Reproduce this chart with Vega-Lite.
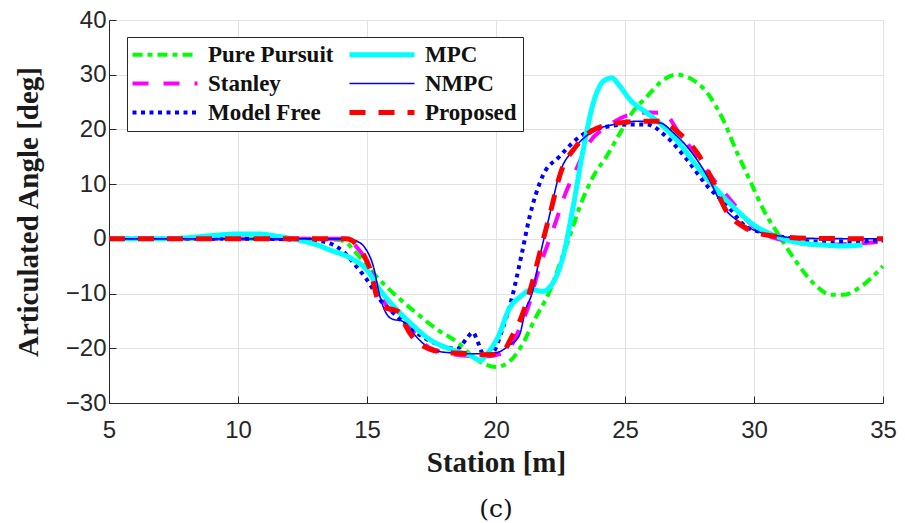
{
  "$schema": "https://vega.github.io/schema/vega-lite/v6.json",
  "width": 774,
  "height": 383,
  "autosize": {"type": "none"},
  "padding": {"left": 109, "top": 20, "right": 22, "bottom": 120},
  "background": "white",
  "title": {"text": "(c)", "orient": "bottom", "font": "DejaVu Serif", "fontSize": 25, "fontWeight": "normal", "color": "#111", "offset": 20, "anchor": "middle"},
  "config": {
    "view": {"stroke": null},
    "axis": {
      "labelFont": "Liberation Sans", "labelFontSize": 24, "labelColor": "#262626",
      "titleFont": "Liberation Serif", "titleFontSize": 29, "titleFontWeight": "bold", "titleColor": "#1a1a1a",
      "gridColor": "#e2e2e2", "gridWidth": 1, "domainColor": "#262626", "domainWidth": 1,
      "tickColor": "#262626", "tickSize": -7
    }
  },
  "data": {"values": [
    {"s":"Pure Pursuit","x":5,"y":0},{"s":"Pure Pursuit","x":8,"y":0},{"s":"Pure Pursuit","x":11,"y":0},{"s":"Pure Pursuit","x":13,"y":0},{"s":"Pure Pursuit","x":13.7,"y":-0.1},{"s":"Pure Pursuit","x":14.1,"y":-0.4},{"s":"Pure Pursuit","x":14.6,"y":-2.7},{"s":"Pure Pursuit","x":15.25,"y":-6.3},{"s":"Pure Pursuit","x":16.15,"y":-10.5},{"s":"Pure Pursuit","x":16.9,"y":-13.5},{"s":"Pure Pursuit","x":17.7,"y":-16.5},{"s":"Pure Pursuit","x":18.5,"y":-18.9},{"s":"Pure Pursuit","x":19.2,"y":-21.9},{"s":"Pure Pursuit","x":20.0,"y":-23.4},{"s":"Pure Pursuit","x":20.5,"y":-22.5},{"s":"Pure Pursuit","x":21.0,"y":-19.5},{"s":"Pure Pursuit","x":21.5,"y":-14.7},{"s":"Pure Pursuit","x":22.05,"y":-9.9},{"s":"Pure Pursuit","x":22.5,"y":-4.2},{"s":"Pure Pursuit","x":22.86,"y":0.5},{"s":"Pure Pursuit","x":23.25,"y":5.9},{"s":"Pure Pursuit","x":23.77,"y":11.4},{"s":"Pure Pursuit","x":24.29,"y":15.1},{"s":"Pure Pursuit","x":24.8,"y":19.3},{"s":"Pure Pursuit","x":25.3,"y":23.2},{"s":"Pure Pursuit","x":25.85,"y":26},{"s":"Pure Pursuit","x":26.5,"y":29.1},{"s":"Pure Pursuit","x":27.0,"y":30},{"s":"Pure Pursuit","x":27.5,"y":29.4},{"s":"Pure Pursuit","x":28.2,"y":26.6},{"s":"Pure Pursuit","x":28.8,"y":21.8},{"s":"Pure Pursuit","x":29.35,"y":15.7},{"s":"Pure Pursuit","x":29.84,"y":10.7},{"s":"Pure Pursuit","x":30.37,"y":5.3},{"s":"Pure Pursuit","x":31.0,"y":0.4},{"s":"Pure Pursuit","x":31.67,"y":-4.4},{"s":"Pure Pursuit","x":32.3,"y":-8.1},{"s":"Pure Pursuit","x":32.98,"y":-10.2},{"s":"Pure Pursuit","x":33.5,"y":-10.2},{"s":"Pure Pursuit","x":34.15,"y":-8.7},{"s":"Pure Pursuit","x":35,"y":-5},

    {"s":"Stanley","x":5,"y":0},{"s":"Stanley","x":9,"y":0},{"s":"Stanley","x":13,"y":0},{"s":"Stanley","x":14.2,"y":0},{"s":"Stanley","x":14.6,"y":-1.5},{"s":"Stanley","x":15.0,"y":-4.2},{"s":"Stanley","x":15.4,"y":-9},{"s":"Stanley","x":15.8,"y":-12.5},{"s":"Stanley","x":16.2,"y":-14},{"s":"Stanley","x":16.7,"y":-16.5},{"s":"Stanley","x":17.3,"y":-19.5},{"s":"Stanley","x":18,"y":-20.8},{"s":"Stanley","x":18.7,"y":-21.3},{"s":"Stanley","x":19.5,"y":-21.5},{"s":"Stanley","x":20.2,"y":-21},{"s":"Stanley","x":20.6,"y":-19.5},{"s":"Stanley","x":20.9,"y":-16.5},{"s":"Stanley","x":21.3,"y":-11.7},{"s":"Stanley","x":21.6,"y":-6.5},{"s":"Stanley","x":22.0,"y":-1},{"s":"Stanley","x":22.3,"y":2.9},{"s":"Stanley","x":22.7,"y":8.4},{"s":"Stanley","x":23.1,"y":12.6},{"s":"Stanley","x":23.6,"y":17.5},{"s":"Stanley","x":24.3,"y":20.5},{"s":"Stanley","x":25.2,"y":22.7},{"s":"Stanley","x":25.97,"y":23.1},{"s":"Stanley","x":26.5,"y":23},{"s":"Stanley","x":27.1,"y":19.3},{"s":"Stanley","x":27.8,"y":15.1},{"s":"Stanley","x":28.44,"y":10.8},{"s":"Stanley","x":29.2,"y":6.5},{"s":"Stanley","x":29.7,"y":3.5},{"s":"Stanley","x":30.3,"y":1.2},{"s":"Stanley","x":31.4,"y":-0.5},{"s":"Stanley","x":32.6,"y":-1.1},{"s":"Stanley","x":34.15,"y":-0.8},{"s":"Stanley","x":35,"y":-0.5},

    {"s":"Model Free","x":5,"y":0},{"s":"Model Free","x":11,"y":0},{"s":"Model Free","x":12,"y":-0.1},{"s":"Model Free","x":13,"y":-0.3},{"s":"Model Free","x":13.6,"y":-0.9},{"s":"Model Free","x":14.1,"y":-2.4},{"s":"Model Free","x":14.6,"y":-5.1},{"s":"Model Free","x":15.0,"y":-7.5},{"s":"Model Free","x":15.5,"y":-11.1},{"s":"Model Free","x":16.15,"y":-14.1},{"s":"Model Free","x":16.9,"y":-17.1},{"s":"Model Free","x":17.7,"y":-19.2},{"s":"Model Free","x":18.5,"y":-20.1},{"s":"Model Free","x":18.85,"y":-18.3},{"s":"Model Free","x":19.1,"y":-17.1},{"s":"Model Free","x":19.3,"y":-18.9},{"s":"Model Free","x":19.5,"y":-21},{"s":"Model Free","x":19.87,"y":-20.7},{"s":"Model Free","x":20.25,"y":-16.5},{"s":"Model Free","x":20.6,"y":-11.1},{"s":"Model Free","x":21.0,"y":-2.7},{"s":"Model Free","x":21.3,"y":4},{"s":"Model Free","x":21.8,"y":11.4},{"s":"Model Free","x":22.47,"y":15.1},{"s":"Model Free","x":23.25,"y":18.7},{"s":"Model Free","x":24.29,"y":20.5},{"s":"Model Free","x":25.2,"y":20.9},{"s":"Model Free","x":25.85,"y":20.9},{"s":"Model Free","x":26.6,"y":18.7},{"s":"Model Free","x":27.4,"y":14.5},{"s":"Model Free","x":28.2,"y":9.6},{"s":"Model Free","x":29.0,"y":5.9},{"s":"Model Free","x":29.7,"y":2.2},{"s":"Model Free","x":30.5,"y":1.0},{"s":"Model Free","x":31.4,"y":0.1},{"s":"Model Free","x":32.3,"y":-0.5},{"s":"Model Free","x":33.6,"y":-0.5},{"s":"Model Free","x":35,"y":-0.3},

    {"s":"MPC","x":5,"y":0},{"s":"MPC","x":7,"y":0},{"s":"MPC","x":8,"y":0.2},{"s":"MPC","x":9,"y":0.6},{"s":"MPC","x":10,"y":0.9},{"s":"MPC","x":10.8,"y":0.9},{"s":"MPC","x":11.5,"y":0.5},{"s":"MPC","x":12,"y":0.1},{"s":"MPC","x":12.5,"y":-0.4},{"s":"MPC","x":13,"y":-1.0},{"s":"MPC","x":13.6,"y":-2.1},{"s":"MPC","x":14.4,"y":-3.6},{"s":"MPC","x":15.0,"y":-5.7},{"s":"MPC","x":15.5,"y":-9.3},{"s":"MPC","x":16.15,"y":-12.9},{"s":"MPC","x":16.8,"y":-15.9},{"s":"MPC","x":17.4,"y":-18.3},{"s":"MPC","x":18.2,"y":-20.1},{"s":"MPC","x":19.0,"y":-21.3},{"s":"MPC","x":19.4,"y":-22.2},{"s":"MPC","x":19.6,"y":-21.3},{"s":"MPC","x":20.1,"y":-17.7},{"s":"MPC","x":20.5,"y":-12.9},{"s":"MPC","x":20.96,"y":-10.5},{"s":"MPC","x":21.4,"y":-9.3},{"s":"MPC","x":21.8,"y":-9.6},{"s":"MPC","x":22.2,"y":-8.1},{"s":"MPC","x":22.6,"y":-3.2},{"s":"MPC","x":22.99,"y":5.9},{"s":"MPC","x":23.38,"y":16.3},{"s":"MPC","x":23.77,"y":24.8},{"s":"MPC","x":24.16,"y":28.8},{"s":"MPC","x":24.48,"y":29.4},{"s":"MPC","x":24.8,"y":27.9},{"s":"MPC","x":25.2,"y":25.4},{"s":"MPC","x":25.85,"y":23},{"s":"MPC","x":26.5,"y":20.5},{"s":"MPC","x":27.1,"y":17.5},{"s":"MPC","x":27.8,"y":13.2},{"s":"MPC","x":28.44,"y":9.6},{"s":"MPC","x":29.1,"y":6.3},{"s":"MPC","x":29.5,"y":4.5},{"s":"MPC","x":29.97,"y":2.6},{"s":"MPC","x":30.76,"y":0.7},{"s":"MPC","x":31.5,"y":-0.5},{"s":"MPC","x":32.6,"y":-1.1},{"s":"MPC","x":33.5,"y":-1.3},{"s":"MPC","x":34.2,"y":-1.1},

    {"s":"NMPC","x":5,"y":0},{"s":"NMPC","x":10,"y":0},{"s":"NMPC","x":13.5,"y":0},{"s":"NMPC","x":14.3,"y":0},{"s":"NMPC","x":14.6,"y":-0.4},{"s":"NMPC","x":14.9,"y":-1.5},{"s":"NMPC","x":15.25,"y":-5.1},{"s":"NMPC","x":15.5,"y":-10.5},{"s":"NMPC","x":15.7,"y":-13.2},{"s":"NMPC","x":16.0,"y":-14.7},{"s":"NMPC","x":16.35,"y":-15},{"s":"NMPC","x":16.7,"y":-16.8},{"s":"NMPC","x":17.2,"y":-19.2},{"s":"NMPC","x":17.95,"y":-20.7},{"s":"NMPC","x":19.2,"y":-21},{"s":"NMPC","x":20,"y":-20.8},{"s":"NMPC","x":20.5,"y":-19.5},{"s":"NMPC","x":20.9,"y":-17.7},{"s":"NMPC","x":21.15,"y":-12.9},{"s":"NMPC","x":21.4,"y":-9.9},{"s":"NMPC","x":21.7,"y":-3.2},{"s":"NMPC","x":22.05,"y":3.8},{"s":"NMPC","x":22.47,"y":12},{"s":"NMPC","x":23.0,"y":16.3},{"s":"NMPC","x":23.64,"y":19.3},{"s":"NMPC","x":24.55,"y":20.9},{"s":"NMPC","x":25.58,"y":21.5},{"s":"NMPC","x":26.36,"y":21.2},{"s":"NMPC","x":26.9,"y":19.3},{"s":"NMPC","x":27.5,"y":16.3},{"s":"NMPC","x":28.2,"y":11.4},{"s":"NMPC","x":28.8,"y":5.9},{"s":"NMPC","x":29.5,"y":2.9},{"s":"NMPC","x":30,"y":1.6},{"s":"NMPC","x":31,"y":0.5},{"s":"NMPC","x":32,"y":0.1},{"s":"NMPC","x":35,"y":0},

    {"s":"Proposed","x":5,"y":0},{"s":"Proposed","x":10,"y":0},{"s":"Proposed","x":13.6,"y":0},{"s":"Proposed","x":14.2,"y":0},{"s":"Proposed","x":14.8,"y":-2.4},{"s":"Proposed","x":15.13,"y":-5.7},{"s":"Proposed","x":15.4,"y":-10.8},{"s":"Proposed","x":15.7,"y":-12.6},{"s":"Proposed","x":16.0,"y":-12.9},{"s":"Proposed","x":16.3,"y":-13.6},{"s":"Proposed","x":16.5,"y":-15.9},{"s":"Proposed","x":17.4,"y":-20.1},{"s":"Proposed","x":18.2,"y":-20.8},{"s":"Proposed","x":19,"y":-21},{"s":"Proposed","x":19.7,"y":-21.2},{"s":"Proposed","x":20.25,"y":-20.7},{"s":"Proposed","x":20.6,"y":-18},{"s":"Proposed","x":21.0,"y":-14.1},{"s":"Proposed","x":21.4,"y":-8.1},{"s":"Proposed","x":21.7,"y":-2.5},{"s":"Proposed","x":22.1,"y":4.7},{"s":"Proposed","x":22.5,"y":12},{"s":"Proposed","x":23.1,"y":16.9},{"s":"Proposed","x":23.77,"y":19.9},{"s":"Proposed","x":24.8,"y":21.2},{"s":"Proposed","x":25.85,"y":21.5},{"s":"Proposed","x":26.36,"y":21.5},{"s":"Proposed","x":27.1,"y":19.3},{"s":"Proposed","x":27.8,"y":15.7},{"s":"Proposed","x":28.44,"y":10.2},{"s":"Proposed","x":28.9,"y":5.3},{"s":"Proposed","x":29.6,"y":2.2},{"s":"Proposed","x":30.2,"y":1.0},{"s":"Proposed","x":31.0,"y":0.4},{"s":"Proposed","x":32.3,"y":0.1},{"s":"Proposed","x":35,"y":0}
  ]},
  "mark": {"type": "line", "interpolate": "monotone", "strokeCap": "butt", "strokeJoin": "round"},
  "encoding": {
    "x": {"field": "x", "type": "quantitative", "scale": {"domain": [5, 35], "nice": false},
      "axis": {"title": "Station [m]", "values": [5,10,15,20,25,30,35], "labelPadding": 22, "titlePadding": 6, "labelFlush": false}},
    "y": {"field": "y", "type": "quantitative", "scale": {"domain": [-30, 40], "nice": false},
      "axis": {"title": "Articulated Angle [deg]", "values": [-30,-20,-10,0,10,20,30,40], "labelPadding": 10, "titlePadding": 22}},
    "color": {"field": "s", "type": "nominal",
      "scale": {"domain": ["Pure Pursuit","Stanley","Model Free","MPC","NMPC","Proposed"],
                "range": ["#00ff00","#ff00ff","#0000ff","#00ffff","#0000ff","#ff0000"]},
      "legend": {"title": null, "orient": "none", "legendX": 18, "legendY": 17, "columns": 2,
        "symbolType": "M-2.4,0H10.6", "symbolSize": 100, "labelOffset": 52,
        "labelFont": "Liberation Serif", "labelFontSize": 23, "labelFontWeight": "bold", "labelColor": "#111",
        "strokeColor": "#262626", "fillColor": "white", "padding": 6, "rowPadding": 5, "columnPadding": 5,
        "labelLimit": 300}},
    "strokeDash": {"field": "s", "type": "nominal",
      "scale": {"domain": ["Pure Pursuit","Stanley","Model Free","MPC","NMPC","Proposed"],
                "range": [[10,5,5,5],[16,15],[4,4.5],[1,0],[1,0],[16,13]]}},
    "strokeWidth": {"field": "s", "type": "nominal",
      "scale": {"type": "ordinal", "domain": ["Pure Pursuit","Stanley","Model Free","MPC","NMPC","Proposed"],
                "range": [4,4,4,5,1.6,5]}},
    "order": {"field": "x", "type": "quantitative"}
  }
}
